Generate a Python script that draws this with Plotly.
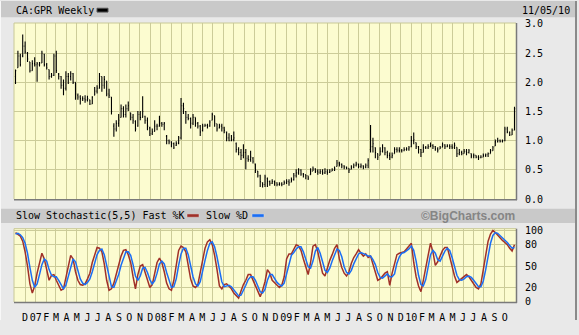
import pandas as pd
import plotly.graph_objects as go

# ---------------- data (weekly, CA:GPR) ----------------
start_date = "2006-11-10"
n_weeks = 209

open_ = [
 2.10,2.25,2.45,2.45,2.62,2.50,2.35,2.20,2.32,2.30,
 2.30,2.33,2.48,2.30,2.22,2.10,2.12,2.45,2.14,2.10,
 1.95,1.90,2.10,2.10,2.15,2.00,1.78,1.75,1.72,1.72,
 1.70,1.70,1.63,1.78,1.85,1.90,2.10,1.95,2.02,1.80,
 1.75,1.25,1.20,1.30,1.40,1.55,1.45,1.55,1.48,1.40,
 1.33,1.25,1.45,1.40,1.42,1.35,1.22,1.12,1.16,1.25,
 1.25,1.30,1.28,1.08,1.00,0.98,0.95,0.92,0.96,1.05,
 1.60,1.50,1.40,1.38,1.30,1.40,1.30,1.25,1.18,1.25,
 1.26,1.25,1.35,1.43,1.29,1.22,1.25,1.22,1.15,1.05,
 1.00,1.02,0.95,0.85,0.80,0.75,0.80,0.70,0.68,0.70,
 0.60,0.48,0.40,0.28,0.25,0.35,0.30,0.27,0.30,0.28,
 0.25,0.26,0.25,0.28,0.30,0.29,0.33,0.40,0.45,0.50,
 0.43,0.42,0.40,0.42,0.48,0.52,0.48,0.46,0.47,0.45,
 0.47,0.46,0.48,0.50,0.56,0.62,0.60,0.57,0.55,0.53,
 0.51,0.55,0.58,0.60,0.56,0.57,0.55,0.58,0.85,0.90,
 0.88,0.78,0.75,0.82,0.88,0.80,0.75,0.72,0.78,0.85,
 0.84,0.83,0.83,0.85,0.86,0.90,1.00,0.97,0.90,0.85,
 0.80,0.88,0.88,0.90,0.92,0.90,0.86,0.86,0.89,0.93,
 0.90,0.91,0.90,0.89,0.89,0.78,0.80,0.78,0.82,0.80,
 0.78,0.74,0.75,0.72,0.71,0.72,0.75,0.76,0.78,0.83,
 0.91,0.98,1.00,0.99,1.00,1.20,1.15,1.10,1.18]

high = [
 2.22,2.54,2.49,2.82,2.70,2.52,2.35,2.38,2.43,2.35,
 2.35,2.54,2.49,2.33,2.22,2.16,2.49,2.54,2.16,2.11,
 2.05,2.19,2.16,2.19,2.16,2.00,1.81,1.78,1.76,1.78,
 1.77,1.70,1.76,1.92,1.95,2.16,2.10,2.11,2.02,1.89,
 1.75,1.30,1.35,1.46,1.62,1.59,1.62,1.67,1.48,1.46,
 1.35,1.51,1.51,1.76,1.43,1.40,1.24,1.21,1.35,1.29,
 1.43,1.32,1.32,1.10,1.02,0.99,0.97,0.99,1.08,1.73,
 1.65,1.51,1.46,1.40,1.46,1.40,1.32,1.27,1.29,1.29,
 1.29,1.35,1.48,1.43,1.29,1.29,1.29,1.24,1.16,1.13,
 1.10,1.16,0.97,0.89,0.86,0.94,0.86,0.75,0.83,0.72,
 0.61,0.48,0.42,0.29,0.42,0.37,0.32,0.34,0.32,0.29,
 0.29,0.29,0.32,0.34,0.34,0.37,0.45,0.51,0.53,0.51,
 0.45,0.42,0.40,0.53,0.56,0.53,0.51,0.51,0.51,0.53,
 0.51,0.51,0.53,0.56,0.67,0.64,0.61,0.58,0.56,0.53,
 0.58,0.61,0.64,0.61,0.61,0.58,0.61,0.70,1.27,1.05,
 0.89,0.78,0.89,0.94,0.89,0.83,0.80,0.80,0.89,0.89,
 0.89,0.86,0.89,0.89,0.91,1.08,1.14,0.97,0.91,0.86,
 0.94,0.91,0.94,0.97,0.94,0.91,0.89,0.91,0.97,0.94,
 0.94,0.94,0.94,0.97,0.89,0.86,0.83,0.86,0.86,0.86,
 0.78,0.78,0.75,0.75,0.75,0.78,0.78,0.80,0.86,0.91,
 1.02,1.05,1.02,1.02,1.24,1.24,1.16,1.21,1.58]

low = [
 1.97,2.25,2.27,2.43,2.49,2.35,2.17,2.20,2.27,2.01,
 2.27,2.33,2.27,2.22,2.05,2.08,2.11,2.16,2.05,1.89,
 1.78,1.86,1.97,2.03,1.97,1.70,1.70,1.62,1.68,1.65,
 1.67,1.61,1.63,1.78,1.81,1.89,1.84,1.89,1.76,1.73,
 1.45,1.07,1.16,1.24,1.40,1.40,1.40,1.51,1.35,1.29,
 1.16,1.24,1.35,1.40,1.29,1.18,1.08,1.10,1.16,1.18,
 1.24,1.24,1.18,0.94,0.94,0.89,0.86,0.91,0.94,1.02,
 1.46,1.29,1.35,1.21,1.27,1.24,1.21,1.08,1.16,1.24,
 1.21,1.24,1.35,1.24,1.16,1.21,1.16,1.13,0.99,0.99,
 0.99,0.99,0.80,0.75,0.67,0.70,0.51,0.64,0.64,0.61,
 0.45,0.37,0.21,0.20,0.21,0.21,0.23,0.26,0.23,0.22,
 0.23,0.22,0.25,0.26,0.23,0.29,0.32,0.37,0.42,0.40,
 0.37,0.34,0.33,0.42,0.48,0.45,0.42,0.43,0.42,0.43,
 0.42,0.45,0.48,0.48,0.56,0.56,0.53,0.51,0.51,0.45,
 0.51,0.53,0.56,0.53,0.53,0.51,0.53,0.53,0.80,0.80,
 0.70,0.67,0.75,0.80,0.75,0.70,0.67,0.70,0.78,0.80,
 0.80,0.80,0.82,0.83,0.83,0.89,0.94,0.86,0.78,0.72,
 0.80,0.86,0.86,0.89,0.86,0.83,0.80,0.86,0.89,0.86,
 0.89,0.86,0.86,0.86,0.72,0.75,0.75,0.78,0.75,0.78,
 0.70,0.70,0.70,0.67,0.70,0.72,0.72,0.72,0.78,0.83,
 0.91,0.97,0.97,0.97,0.99,1.13,1.08,1.10,1.18]

close = [
 2.20,2.45,2.30,2.62,2.52,2.40,2.20,2.32,2.30,2.32,
 2.33,2.50,2.30,2.25,2.10,2.12,2.45,2.20,2.10,1.95,
 1.90,2.10,2.10,2.15,2.00,1.80,1.75,1.72,1.72,1.70,
 1.72,1.63,1.75,1.85,1.90,2.10,1.95,2.05,1.80,1.78,
 1.50,1.20,1.30,1.35,1.55,1.45,1.55,1.60,1.40,1.35,
 1.20,1.45,1.40,1.50,1.35,1.25,1.12,1.15,1.25,1.25,
 1.30,1.28,1.30,1.00,0.98,0.95,0.88,0.95,1.05,1.60,
 1.55,1.40,1.38,1.30,1.40,1.30,1.25,1.15,1.25,1.26,
 1.25,1.32,1.45,1.30,1.20,1.25,1.22,1.18,1.05,1.00,
 1.02,1.05,0.85,0.80,0.75,0.80,0.70,0.68,0.72,0.65,
 0.50,0.40,0.30,0.25,0.38,0.30,0.27,0.30,0.28,0.25,
 0.26,0.25,0.28,0.30,0.28,0.33,0.40,0.45,0.50,0.43,
 0.42,0.40,0.36,0.48,0.52,0.48,0.46,0.47,0.45,0.47,
 0.46,0.48,0.50,0.52,0.62,0.60,0.57,0.55,0.53,0.50,
 0.55,0.58,0.60,0.56,0.57,0.55,0.58,0.66,0.90,0.95,
 0.80,0.72,0.82,0.88,0.80,0.75,0.72,0.75,0.85,0.84,
 0.83,0.83,0.85,0.86,0.88,1.00,1.02,0.90,0.85,0.80,
 0.88,0.88,0.90,0.92,0.90,0.86,0.84,0.88,0.93,0.90,
 0.91,0.90,0.89,0.92,0.78,0.80,0.78,0.82,0.80,0.83,
 0.74,0.75,0.72,0.71,0.72,0.75,0.76,0.78,0.83,0.88,
 0.98,1.00,0.99,1.00,1.20,1.15,1.10,1.18,1.55]

fast_k = [
 97,95,92,85,70,50,25,12,22,40,
 55,68,60,45,30,37,38,30,22,16,
 18,35,52,65,60,42,30,24,23,25,
 32,40,55,66,76,75,70,53,30,16,
 18,26,38,50,64,72,73,66,55,35,
 18,38,50,52,42,30,20,24,42,55,
 61,55,42,26,18,16,30,50,72,78,
 76,70,52,32,22,20,24,40,58,75,
 84,87,80,65,45,22,18,24,25,21,
 18,12,8,5,15,24,30,38,38,30,
 22,14,7,16,28,45,40,30,27,24,
 20,23,35,60,67,67,74,80,78,72,
 60,48,38,55,78,80,70,55,40,36,
 48,58,66,75,80,60,48,40,36,42,
 54,62,67,73,68,64,67,62,64,52,
 40,30,32,36,40,42,23,40,55,66,
 68,69,70,74,78,82,55,35,22,14,
 30,50,65,82,70,51,56,64,72,76,
 76,63,48,36,27,30,32,35,38,35,
 30,24,20,18,25,45,65,85,95,100,
 97,93,90,86,83,80,75,71,80]

slow_d = [
 95,96,94,90,82,68,48,30,20,25,
 38,52,60,57,45,37,35,35,30,23,
 18,23,35,50,60,56,44,32,26,24,
 27,32,42,54,66,72,74,66,50,33,
 21,20,28,38,51,62,70,70,65,52,
 36,30,36,47,48,41,31,25,29,40,
 53,57,53,41,29,20,21,32,51,67,
 75,75,66,51,35,25,22,28,41,58,
 72,82,84,77,63,44,28,21,22,23,
 21,17,13,8,9,15,23,31,35,35,
 30,22,14,12,17,30,38,38,32,27,
 24,22,26,39,54,65,69,74,77,77,
 70,60,49,47,57,71,76,68,55,44,
 41,47,57,66,74,72,63,49,41,39,
 44,53,61,67,69,68,66,64,64,59,
 52,41,34,33,36,39,35,35,39,54,
 63,68,69,71,74,78,72,57,37,24,
 22,31,48,66,72,68,59,57,64,71,
 75,72,62,49,37,31,30,32,35,36,
 34,30,25,21,21,29,45,65,82,93,
 97,96,93,90,86,83,79,75,76]

price_ticks = [0.0, 0.5, 1.0, 1.5, 2.0, 2.5, 3.0]
stoch_ticks = [0, 20, 50, 80, 100]
month_letters = ["J", "F", "M", "A", "M", "J", "J", "A", "S", "O", "N", "D"]

dates = pd.date_range(start_date, periods=n_weeks, freq="7D")

# month grid/labels
months = pd.date_range("2006-12-01", "2010-10-01", freq="MS")
tickvals = [m + pd.Timedelta(days=7) for m in months]
ticktext = [(m.strftime("%y") if m.month == 1 else month_letters[m.month - 1]) for m in months]

W, H = 579, 335
L, R, T, B = 14, 516, 23, 316  # plot area in px


def px(x):
    return (x - L) / (R - L)


def py(y):
    return (B - y) / (B - T)


GRID = "#cccc99"
PLOTBG = "#fcfcd0"
PAPER = "#e9e9e9"
BAND = "#c9c9c9"
MONO = "DejaVu Sans Mono"

fig = go.Figure()
fig.add_trace(go.Ohlc(
    x=dates, open=open_, high=high, low=low, close=close,
    increasing=dict(line=dict(color="black", width=1.1)),
    decreasing=dict(line=dict(color="black", width=1.1)),
    tickwidth=0.3, xaxis="x", yaxis="y", showlegend=False, hoverinfo="skip"))
fig.add_trace(go.Scatter(x=dates, y=fast_k, mode="lines",
                         line=dict(color="#a03028", width=1.5),
                         xaxis="x2", yaxis="y2", showlegend=False, hoverinfo="skip"))
fig.add_trace(go.Scatter(x=dates, y=slow_d, mode="lines",
                         line=dict(color="#1a6ef5", width=1.5),
                         xaxis="x2", yaxis="y2", showlegend=False, hoverinfo="skip"))

xrange = ["2006-11-05 14:00", "2010-11-09 10:00"]
top_dom = [py(208), 1.0]
bot_dom = [0.0, py(239)]

common_x = dict(type="date", range=xrange, tickvals=tickvals, showgrid=True,
                gridcolor=GRID, gridwidth=1, zeroline=False, showline=False,
                ticks="", fixedrange=True, tickangle=0)
fig.update_layout(
    width=W, height=H,
    margin=dict(l=L, r=W - R, t=T, b=H - B, pad=0),
    paper_bgcolor=PAPER, plot_bgcolor=PLOTBG,
    showlegend=False,
    font=dict(family=MONO, size=10, color="black"),
    xaxis=dict(**common_x, anchor="y", showticklabels=False,
               rangeslider=dict(visible=False)),
    yaxis=dict(domain=top_dom, range=[0, 3.016], side="right", tickvals=price_ticks,
               tickformat=".1f", showgrid=True, gridcolor=GRID, zeroline=False,
               ticks="", ticklabelstandoff=8, tickfont=dict(family=MONO, size=10),
               fixedrange=True),
    xaxis2=dict(**common_x, anchor="y2", ticktext=ticktext, showticklabels=True,
                tickfont=dict(family=MONO, size=10), ticklabelstandoff=8),
    yaxis2=dict(domain=bot_dom, range=[-0.5, 102.5], side="right", tickvals=stoch_ticks,
                showgrid=True, gridcolor=GRID, zeroline=False, ticks="",
                ticklabelstandoff=8, tickfont=dict(family=MONO, size=10),
                fixedrange=True),
)

shapes = []
# header bands
shapes.append(dict(type="rect", xref="paper", yref="paper", x0=px(1), x1=px(575),
                   y0=py(17), y1=py(0), fillcolor=BAND, line=dict(width=0), layer="below"))
shapes.append(dict(type="rect", xref="paper", yref="paper", x0=px(1), x1=px(575),
                   y0=py(233), y1=py(218), fillcolor=BAND, line=dict(width=0), layer="below"))
# outer frame
shapes.append(dict(type="line", xref="paper", yref="paper", x0=px(576), x1=px(576),
                   y0=py(335), y1=py(0), line=dict(color="#8a8a8a", width=2)))
shapes.append(dict(type="line", xref="paper", yref="paper", x0=px(0.5), x1=px(0.5),
                   y0=py(335), y1=py(0), line=dict(color="#f8f8f8", width=1)))
# plot borders (light top/left, dark right/bottom)
for (y0, y1) in [(23, 208), (239, 316)]:
    shapes.append(dict(type="line", xref="paper", yref="paper", x0=px(14), x1=px(516),
                       y0=py(y0), y1=py(y0), line=dict(color="#c8c896", width=1)))
    shapes.append(dict(type="line", xref="paper", yref="paper", x0=px(14), x1=px(14),
                       y0=py(y0), y1=py(y1), line=dict(color="#c8c896", width=1)))
    shapes.append(dict(type="line", xref="paper", yref="paper", x0=px(516.5), x1=px(516.5),
                       y0=py(y0), y1=py(y1 + 1), line=dict(color="#7a7a7a", width=1.5)))
    shapes.append(dict(type="line", xref="paper", yref="paper", x0=px(14), x1=px(517),
                       y0=py(y1 + 0.5), y1=py(y1 + 0.5), line=dict(color="#7a7a7a", width=1.5)))
# legend swatches
shapes.append(dict(type="rect", xref="paper", yref="paper", x0=px(97), x1=px(108),
                   y0=py(11.5), y1=py(7.5), fillcolor="black", line=dict(color="#555", width=1)))
shapes.append(dict(type="rect", xref="paper", yref="paper", x0=px(187), x1=px(199),
                   y0=py(227), y1=py(223.5), fillcolor="#a03028", line=dict(color="#ddd", width=0.5)))
shapes.append(dict(type="rect", xref="paper", yref="paper", x0=px(252), x1=px(264),
                   y0=py(227), y1=py(223.5), fillcolor="#1a6ef5", line=dict(color="#ddd", width=0.5)))
fig.update_layout(shapes=shapes)

ann = []
ann.append(dict(text="CA:GPR Weekly", x=px(14), y=py(9.5), xref="paper", yref="paper",
                xanchor="left", yanchor="middle", showarrow=False,
                font=dict(family=MONO, size=10, color="black")))
ann.append(dict(text="11/05/10", x=px(572), y=py(9.5), xref="paper", yref="paper",
                xanchor="right", yanchor="middle", showarrow=False,
                font=dict(family=MONO, size=10, color="black")))
ann.append(dict(text="Slow Stochastic(5,5) Fast %K", x=px(14), y=py(225.5), xref="paper",
                yref="paper", xanchor="left", yanchor="middle", showarrow=False,
                font=dict(family=MONO, size=10, color="black")))
ann.append(dict(text="Slow %D", x=px(204), y=py(225.5), xref="paper",
                yref="paper", xanchor="left", yanchor="middle", showarrow=False,
                font=dict(family=MONO, size=10, color="black")))
ann.append(dict(text="<b>©BigCharts.com</b>", x=px(517), y=py(225.5), xref="paper",
                yref="paper", xanchor="right", yanchor="middle", showarrow=False,
                font=dict(family="Liberation Sans", size=12, color="#858585")))
fig.update_layout(annotations=ann)

fig.write_html("out.html")
